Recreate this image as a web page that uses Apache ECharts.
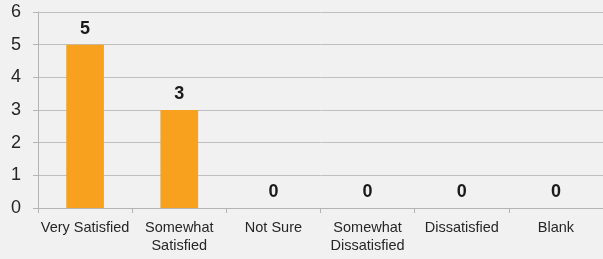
<!DOCTYPE html>
<html><head><meta charset="utf-8">
<script src="https://cdn.jsdelivr.net/npm/echarts@6/dist/echarts.min.js"></script>
<style>html,body{margin:0;padding:0;background:#f1f1f1;}#c{width:603px;height:259px;}</style>
</head><body><div id="c"></div>
<script>
const categories = ["Very Satisfied", "Somewhat\nSatisfied", "Not Sure", "Somewhat\nDissatisfied", "Dissatisfied", "Blank"];
const values = [5, 3, 0, 0, 0, 0];
const yTicks = [0, 1, 2, 3, 4, 5, 6];

const chart = echarts.init(document.getElementById('c'));
chart.setOption({
  backgroundColor: '#f1f1f1',
  animation: false,
  grid: {left: 38, right: -5, top: 12, bottom: 51, containLabel: false},
  xAxis: {
    type: 'category', data: categories,
    axisLine: {lineStyle: {color: '#b4b4b4', width: 1}},
    axisTick: {show: true, length: 5, lineStyle: {color: '#b4b4b4'}},
    axisLabel: {color: '#262626', fontFamily: 'Liberation Sans', fontSize: 14.5, margin: 11, lineHeight: 18, interval: 0}
  },
  yAxis: {
    type: 'value', min: yTicks[0], max: yTicks[yTicks.length-1], interval: 1,
    axisLine: {show: true, lineStyle: {color: '#b4b4b4'}},
    axisTick: {show: true, length: 5, lineStyle: {color: '#b4b4b4'}},
    splitLine: {lineStyle: {color: '#bfbfbf'}},
    axisLabel: {color: '#262626', fontFamily: 'Liberation Sans', fontSize: 18, margin: 17}
  },
  series: [{
    type: 'bar', data: values, barWidth: '40%',
    itemStyle: {color: '#f7a11f'},
    label: {show: true, position: 'top', distance: 7, color: '#1a1a1a', fontWeight: 'bold', fontSize: 18, fontFamily: 'Liberation Sans'}
  }]
});
</script></body></html>
